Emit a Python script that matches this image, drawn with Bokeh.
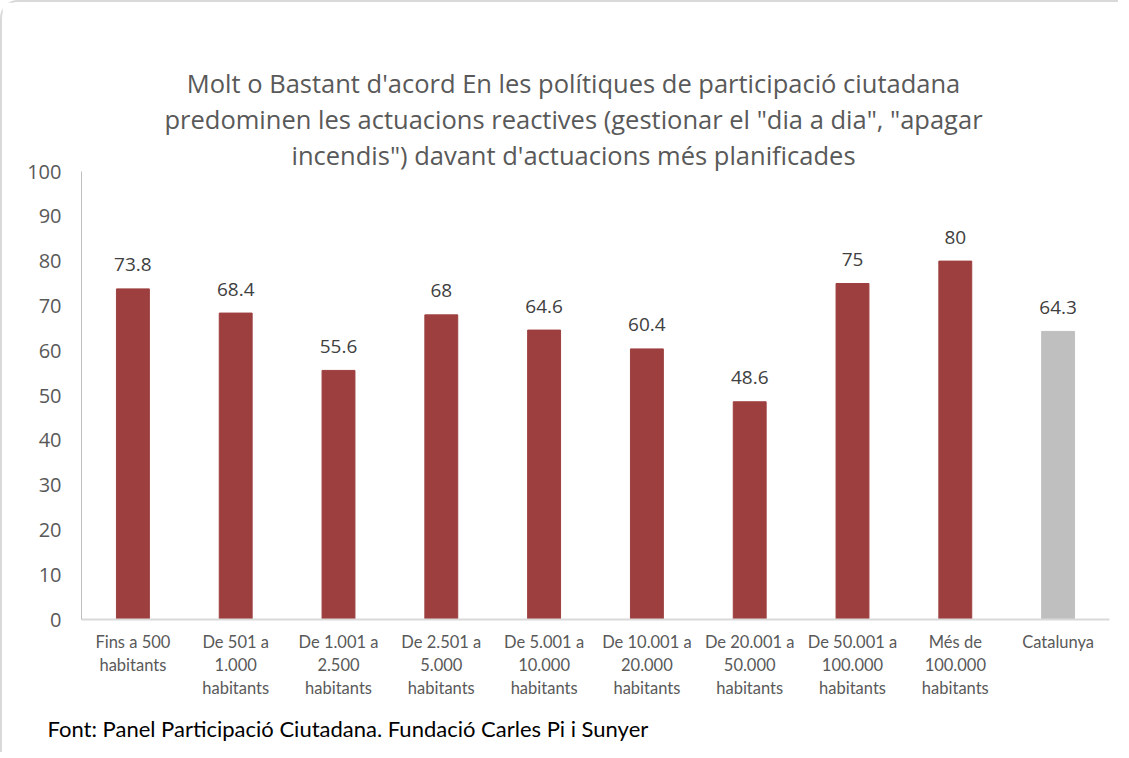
from bokeh.plotting import figure
from bokeh.models import ColumnDataSource, FactorRange, Range1d, FixedTicker, Title, LinearAxis
from bokeh.core.properties import value
from bokeh.embed import file_html
from bokeh.resources import INLINE

categories = ["Fins a 500\nhabitants", "De 501 a\n1.000\nhabitants", "De 1.001 a\n2.500\nhabitants",
              "De 2.501 a\n5.000\nhabitants", "De 5.001 a\n10.000\nhabitants", "De 10.001 a\n20.000\nhabitants",
              "De 20.001 a\n50.000\nhabitants", "De 50.001 a\n100.000\nhabitants", "Més de\n100.000\nhabitants",
              "Catalunya"]
values = [73.8, 68.4, 55.6, 68, 64.6, 60.4, 48.6, 75, 80, 64.3]
value_labels = ["73.8", "68.4", "55.6", "68", "64.6", "60.4", "48.6", "75", "80", "64.3"]
colors = ["#9E3F3F"] * 9 + ["#BFBFBF"]
y_ticks = list(range(0, 101, 10))
title_lines = ["Molt o Bastant d'acord En les polítiques de participació ciutadana",
               "predominen les actuacions reactives (gestionar el \"dia a dia\", \"apagar",
               "incendis\") davant d'actuacions més planificades"]
source_note = "Font: Panel Participació Ciutadana. Fundació Carles Pi i Sunyer"

src = ColumnDataSource(dict(cat=categories, val=values, lab=value_labels, col=colors))

p = figure(x_range=FactorRange(*categories), y_range=Range1d(0, 100),
           width=1118, height=752, output_backend="svg", toolbar_location=None,
           min_border_left=79, min_border_right=11, min_border_top=169, min_border_bottom=135)
p.styles = {"border-left": "2px solid #d9d9d9", "border-top": "2px solid #d9d9d9",
            "border-top-left-radius": "18px"}
p.outline_line_color = None
p.xgrid.grid_line_color = None
p.ygrid.grid_line_color = None

p.vbar(x="cat", top="val", width=0.32, color="col", source=src)
p.text(x="cat", y="val", text="lab", source=src, text_align="center", text_baseline="middle",
       y_offset=-24, text_font_size="19px", text_color="#404040", text_font=value("Open Sans"))

p.yaxis.ticker = FixedTicker(ticks=y_ticks)
p.yaxis.axis_line_color = "#c0c0c0"
p.yaxis.major_tick_line_color = None
p.yaxis.minor_tick_line_color = None
p.yaxis.major_label_text_font = "Open Sans"
p.yaxis.major_label_text_font_size = "20px"
p.yaxis.major_label_text_color = "#595959"
p.yaxis.major_label_standoff = 14

p.xaxis.axis_line_color = "#d9d9d9"
p.xaxis.axis_line_width = 2
p.xaxis.major_tick_line_color = None
p.xaxis.minor_tick_line_color = None
p.xaxis.major_label_text_font = "Lato"
p.xaxis.major_label_text_font_size = "16.5px"
p.xaxis.major_label_text_color = "#595959"
p.xaxis.major_label_text_line_height = 1.16
p.xaxis.major_label_standoff = 6

# empty spacer between the frame and the title lines
spacer = LinearAxis(ticker=FixedTicker(ticks=[]), axis_line_color=None, major_tick_line_color=None,
                    minor_tick_line_color=None, major_tick_out=30, major_label_standoff=0)
p.add_layout(spacer, "above")

for line in reversed(title_lines):
    p.add_layout(Title(text=line, align="center", text_font="Open Sans", text_font_size="25.5px",
                       text_font_style="normal", text_color="#595959", standoff=0,
                       padding={"left": 0, "right": 44, "top": 0, "bottom": 0}), "above")

p.add_layout(Title(text=source_note, align="left", offset=-34, text_font="Lato",
                   text_font_size="22px", text_font_style="normal", text_color="#000000",
                   text_line_height=1.0, standoff=24), "below")

open("out.html", "w").write(file_html(p, INLINE))
